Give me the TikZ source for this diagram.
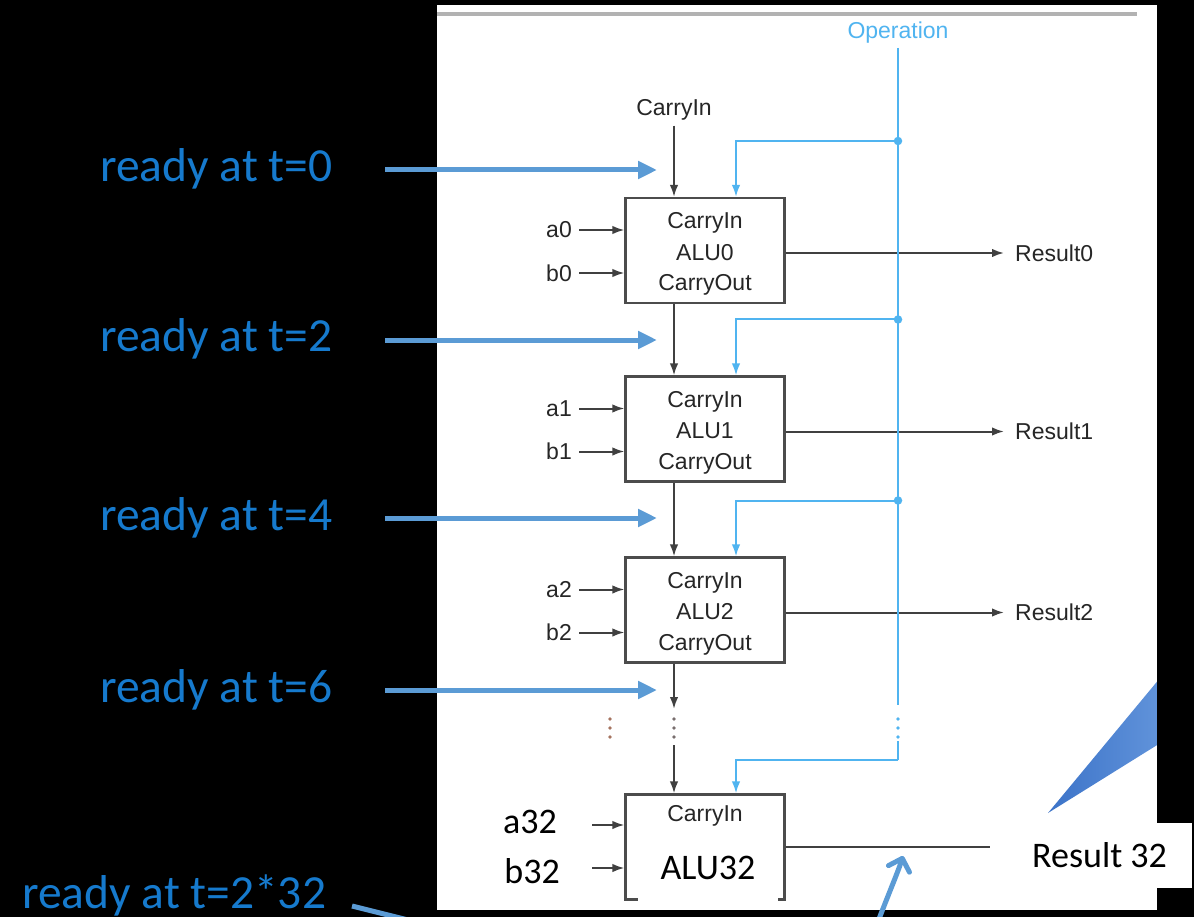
\documentclass[tikz,border=0pt]{standalone}
\usepackage{fontspec}
\setmainfont{Liberation Sans}
\newfontfamily\calfont{Carlito}
\usetikzlibrary{arrows.meta,calc}
\definecolor{opblue}{RGB}{80,180,240}
\definecolor{rblue}{RGB}{91,155,213}
\definecolor{rtext}{RGB}{22,122,205}
\definecolor{dotbrown}{RGB}{165,115,95}
\definecolor{dotgrey}{RGB}{120,110,110}
\definecolor{wedgea}{RGB}{60,115,200}
\definecolor{wedgeb}{RGB}{100,150,220}
\begin{document}
\begin{tikzpicture}[x=1pt,y=-1pt,
  small/.style={font=\fontsize{23}{26}\selectfont, text=black!85, inner sep=0pt},
  big/.style={font=\calfont\fontsize{47.5}{52}\selectfont, text=rtext, inner sep=0pt},
  mid/.style={font=\calfont\fontsize{36}{40}\selectfont, text=black, inner sep=0pt},
  alubox/.style={draw=black!70, line width=2.2pt, minimum width=159pt, minimum height=105pt, inner sep=0pt},
  wire/.style={draw=black!75, line width=2pt, -{Latex[length=12pt,width=8.5pt]}},
  opline/.style={draw=opblue, line width=2pt},
  oparrow/.style={opline, -{Latex[length=12pt,width=8.5pt]}},
  readyarrow/.style={draw=rblue, line width=5pt, -{Triangle[length=19pt,width=17pt]}},
  jdot/.style={circle, fill=opblue, inner sep=0pt, minimum size=8.5pt},
]
\useasboundingbox (0,0) rectangle (1194,917);
\clip (0,0) rectangle (1194,917);
\fill[black] (0,0) rectangle (1194,917);
\fill[white] (437,5) rectangle (1157,910);
\draw[black!30, line width=4pt] (437,14) -- (1137,14);

% top labels
\node[small, text=opblue] (op) at (898,33) {Operation};
\node[small] (cin) at (674,110) {CarryIn};
\coordinate (opx) at (736,0);

% ALU 0..2
\foreach \i/\yc in {0/250.5,1/429,2/610}{
  \node[alubox] (alu\i) at (705,\yc) {};
  \node[small] (ci\i) at (705,\yc-27.5) {CarryIn};
  \node[small] (n\i) at (705,\yc+2) {ALU\i};
  \node[small] (co\i) at (705,\yc+34.5) {CarryOut};
  \node[small, anchor=east] (a\i) at (572,\yc-20.5) {a\i};
  \node[small, anchor=east] (b\i) at (572,\yc+22.5) {b\i};
  \node[small, anchor=west] (res\i) at (1015,\yc+2.5) {Result\i};
  \draw[wire] ([xshift=7pt]a\i.east) -- (a\i.east -| alu\i.west);
  \draw[wire] ([xshift=7pt]b\i.east) -- (b\i.east -| alu\i.west);
  \draw[wire] (alu\i.east |- res\i.west) -- ([xshift=-11pt]res\i.west);
  \coordinate (j\i) at (898,\yc-109.5);
  \draw[oparrow] (j\i) -| (alu\i.north -| opx);
  \node[jdot] at (j\i) {};
}

% ALU 32
\node[alubox] (alu32) at (705,847) {};
\node[small] (ci32) at (705,816) {CarryIn};
\fill[white] (638,840) rectangle (778,903);
\node[mid, anchor=base] (n32) at (708,879) {ALU32};
\node[mid, anchor=base east] (a32) at (557,833) {a32};
\node[mid, anchor=base east] (b32) at (560,883) {b32};
\coordinate (a32s) at (592,825);
\coordinate (b32s) at (592,868);
\draw[wire] (a32s) -- (a32s -| alu32.west);
\draw[wire] (b32s) -- (b32s -| alu32.west);
\coordinate (r32in) at (1003,847);
\draw[wire] (alu32.east) -- (r32in);

% carry chain
\draw[wire] ([yshift=-5pt]cin.south) -- (cin.south |- alu0.north);
\draw[wire] (alu0.south -| cin) -- (alu1.north -| cin);
\draw[wire] (alu1.south -| cin) -- (alu2.north -| cin);
\coordinate (d2top) at (674,709);
\coordinate (d2bot) at (674,745);
\draw[wire] (alu2.south -| cin) -- (d2top);
\draw[wire] (d2bot) -- (alu32.north -| cin);

% operation line
\coordinate (optop) at (898,48);
\coordinate (opdot) at (898,705);
\coordinate (opres) at (898,741);
\coordinate (oplast) at (898,760);
\draw[opline] (optop) -- (opdot);
\draw[opline] (opres) -- (oplast);
\draw[oparrow] (oplast) -| (alu32.north -| opx);

% vertical ellipses
\foreach \x/\c in {610/dotbrown, 674/dotgrey, 898/opblue}
  \foreach \y in {719,728,737}
    \fill[\c] (\x,\y) circle (1.9pt);

% ready labels and arrows
\foreach \k/\ya/\t in {0/170/0, 1/340/2, 2/518/4, 3/690/6}{
  \node[big, anchor=base west] (r\k) at (100,\ya+12) {ready at t=\t};
  \coordinate (ra\k) at (385,\ya);
  \coordinate (rb\k) at (657,\ya);
  \draw[readyarrow] (ra\k) -- (rb\k);
}
\node[big, anchor=base west] (r32) at (22,908) {ready at t=2*32};
\coordinate (rl1) at (352,906);
\coordinate (rl2) at (430,925.5);
\draw[rblue, line width=5pt] (rl1) -- (rl2);

% curved arrow pointing to result 32 wire
\coordinate (ca1) at (874,932);
\coordinate (ca2) at (903,856);
\draw[rblue, line width=5pt, line cap=round,
  -{Straight Barb[length=11pt,width=22pt,round]}]
  (ca1) .. controls (888,895) and (898,872) .. (ca2);

% callout wedge
\shade[left color=wedgea, right color=wedgeb] (1048,813) -- (1170,666) -- (1170,737) -- cycle;

% right black band and result 32 box
\fill[black] (1157,0) rectangle (1194,917);
\fill[white] (990,823) rectangle (1192,888);
\node[mid, anchor=base west] (res32) at (1032,867) {Result 32};
\end{tikzpicture}
\end{document}
